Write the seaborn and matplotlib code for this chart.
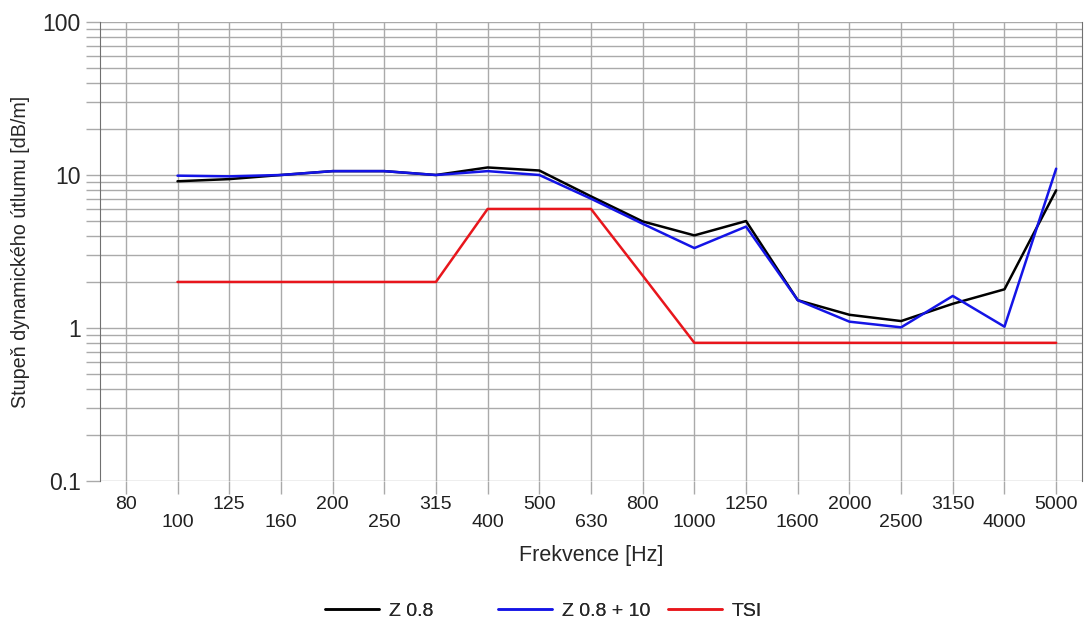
import numpy as np
import pandas as pd
import matplotlib
matplotlib.use("Agg")
import matplotlib.pyplot as plt
import seaborn as sns

# data (third-octave bands)
freqs = ["80", "100", "125", "160", "200", "250", "315", "400", "500", "630",
         "800", "1000", "1250", "1600", "2000", "2500", "3150", "4000", "5000"]
z08 = [np.nan, 9.1, 9.4, 10.0, 10.6, 10.6, 10.0, 11.2, 10.7, 7.25,
       4.97, 4.03, 5.0, 1.52, 1.22, 1.11, 1.44, 1.79, 7.94]
z08_10 = [np.nan, 9.9, 9.8, 10.0, 10.6, 10.6, 10.0, 10.6, 10.0, 7.0,
          4.8, 3.33, 4.6, 1.52, 1.1, 1.01, 1.62, 1.02, 11.0]
tsi = [np.nan, 2.0, 2.0, 2.0, 2.0, 2.0, 2.0, 6.0, 6.0, 6.0,
       2.2, 0.8, 0.8, 0.8, 0.8, 0.8, 0.8, 0.8, 0.8]
series_names = ["Z 0.8", "Z 0.8 + 10", "TSI"]
series_colors = ["#000000", "#1414e6", "#e8161c"]

pos = np.arange(len(freqs))
df = pd.concat([
    pd.DataFrame({"pos": pos, "value": vals, "series": name})
    for name, vals in zip(series_names, [z08, z08_10, tsi])
], ignore_index=True)

sns.set_style("white")
plt.rcParams["font.family"] = ["Liberation Sans", "DejaVu Sans"]

fig = plt.figure(figsize=(10.85, 6.29), dpi=100)
ax = fig.add_axes([100 / 1085, 1 - 481 / 629, 982 / 1085, 459 / 629])

sns.lineplot(data=df, x="pos", y="value", hue="series", hue_order=series_names,
             palette=dict(zip(series_names, series_colors)), linewidth=1.8,
             sort=False, ax=ax)

ax.set_yscale("log")
ax.set_ylim(0.1, 100)
ax.set_xlim(-0.5, len(freqs) - 0.5)

# alternating two-row tick labels
labels = [f if i % 2 == 0 else "\n" + f for i, f in enumerate(freqs)]
ax.set_xticks(pos)
ax.set_xticklabels(labels, fontsize=14, color="#202020", linespacing=1.05)
ax.set_yticks([0.1, 1, 10, 100])
ax.set_yticklabels(["0.1", "1", "10", "100"], fontsize=16.5)

grid_col = "#aaaaaa"
ax.grid(True, which="major", axis="x", color=grid_col, linewidth=1)
ax.grid(True, which="both", axis="y", color=grid_col, linewidth=1)
ax.tick_params(axis="x", length=9, width=1, color=grid_col, pad=2, direction="out",
               bottom=True)
ax.tick_params(axis="y", which="both", length=10, width=1, color=grid_col, pad=4,
               left=True)
ax.tick_params(axis="y", which="minor", labelleft=False)

for side in ["top", "bottom"]:
    ax.spines[side].set_visible(False)
ax.spines["left"].set_color("#707070")
ax.spines["right"].set_color("#707070")

ax.set_xlabel("Frekvence [Hz]", fontsize=15.5, labelpad=10)
ax.set_ylabel("Stupeň dynamického útlumu [dB/m]", fontsize=14.2, labelpad=9)

# legend: three equally spaced entries under the plot
handles, lbls = ax.get_legend_handles_labels()
ax.get_legend().remove()
for h, l, xpx in zip(handles, lbls, [307, 480, 650]):
    leg = fig.legend([h], [l], loc="center left",
                     bbox_to_anchor=(xpx / 1085, 1 - 611 / 629),
                     frameon=False, fontsize=14, handlelength=2.8,
                     handletextpad=0.5)
    fig.add_artist(leg)

fig.savefig("out.png", dpi=100)
